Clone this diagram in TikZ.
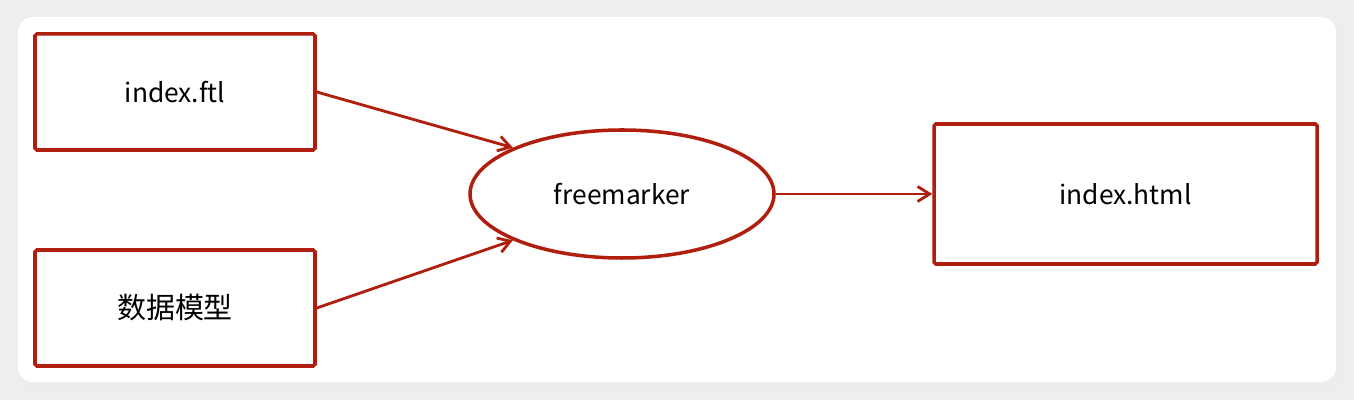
\documentclass[tikz,border=0pt]{standalone}
\usepackage{fontspec}
\setmainfont{Noto Sans CJK SC}
\usetikzlibrary{arrows.meta,shapes.geometric}
\definecolor{boxred}{HTML}{B01E0E}
\definecolor{pagegray}{HTML}{EEEEEE}
\tikzset{
    filebox/.style={draw=boxred, line width=2pt, rounded corners=1pt, fill=white,
        minimum width=5.6cm, minimum height=2.32cm, font=\fontsize{15}{18}\selectfont},
    engine/.style={ellipse, draw=boxred, line width=2pt, fill=white,
        minimum width=6.08cm, minimum height=2.56cm, inner sep=0pt, font=\fontsize{15}{18}\selectfont},
    flow/.style={draw=boxred, line width=1.6pt, -{Straight Barb[length=0.24cm, width=0.3cm, line width=1.6pt]}}
}
\begin{document}
\begin{tikzpicture}
    % page and panel
    \fill[pagegray] (0,0) rectangle (27.08,8);
    \useasboundingbox (0,0) rectangle (27.08,8);
    \fill[black!12, rounded corners=0.3cm] (0.40,0.26) rectangle (26.82,7.66);
    \fill[black!7, rounded corners=0.34cm] (0.36,0.20) rectangle (26.88,7.72);
    \fill[white, rounded corners=0.3cm] (0.36,0.36) rectangle (26.72,7.66);

    % nodes
    \node[filebox] (ftl) at (3.5,6.16) {index.ftl};
    \node[filebox, font=\fontsize{16.5}{20}\selectfont] (model) at (3.5,1.84) {数据模型};
    \node[engine] (fm) at (12.44,4.12) {freemarker};
    \node[filebox, minimum width=7.66cm, minimum height=2.8cm] (html) at (22.51,4.12) {index.html};

    % connectors
    \draw[flow] (ftl.east) -- (fm.157);
    \draw[flow] (model.east) -- (fm.203);
    \draw[flow] (fm.east) -- (html.west);
\end{tikzpicture}
\end{document}
